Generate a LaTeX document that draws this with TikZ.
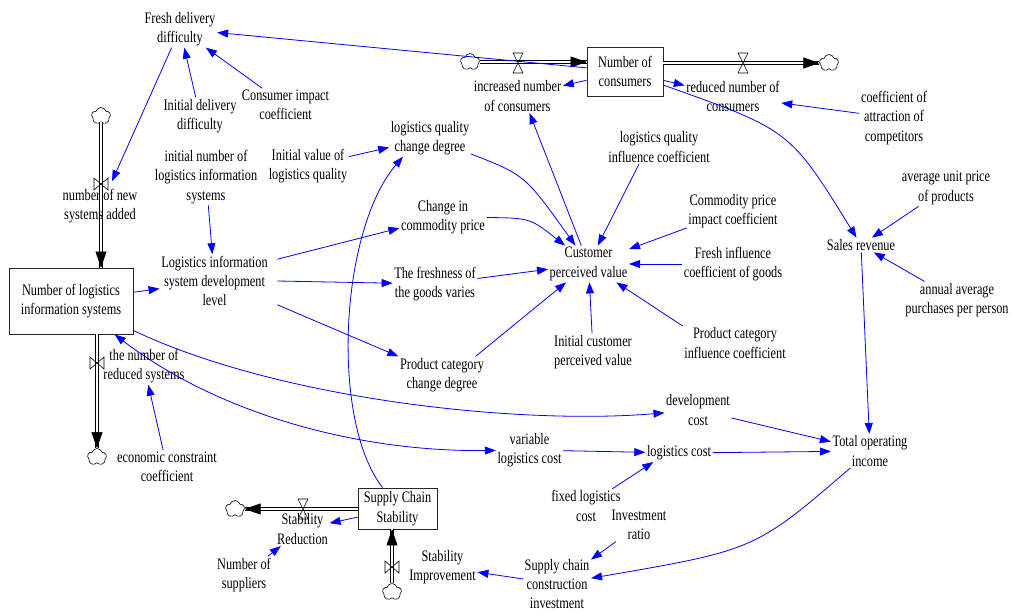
\documentclass[tikz,border=0pt]{standalone}
\usepackage{fontspec}
\setmainfont{Liberation Serif}[FakeStretch=0.77]
\usetikzlibrary{arrows.meta,shapes.symbols,calc}
\begin{document}
\begin{tikzpicture}[x=1pt,y=-1pt,
  lbl/.style={align=center,inner sep=1.5pt,font=\fontsize{16}{19.4}\selectfont},
  stock/.style={lbl,draw=black!85,line width=0.9pt,inner sep=0pt},
  cld/.style={cloud,cloud puffs=5,cloud puff arc=150,draw,line width=0.6pt,minimum width=19pt,minimum height=17pt,inner sep=0pt,aspect=1},
  link/.style={draw=blue,line width=0.8pt,-{Triangle[length=11pt,width=8pt]}},
  pipe/.style={draw=black,double=white,double distance=2.6pt,line width=0.8pt},
  ptip/.style={-{Triangle[length=16pt,width=11pt]},line width=0.5pt,black},
  hvalve/.pic={\draw[line width=0.6pt] (-5,-10)--(5,-10)--(-5,10)--(5,10)--cycle;},
  vvalve/.pic={\draw[line width=0.6pt] (-7,-6)--(-7,6)--(7,-6)--(7,6)--cycle;}
]
\useasboundingbox (0,0) rectangle (1012,614);

% stocks
\node[stock,minimum width=76pt,minimum height=49pt] (cons) at (625,71.5) {Number of\\consumers};
\node[stock,minimum width=124pt,minimum height=66pt] (nlis) at (71,301) {Number of logistics\\information systems};
\node[stock,minimum width=79pt,minimum height=41pt] (scs) at (397.5,508.5) {Supply Chain\\Stability};

% clouds
\node[cld] (cl1) at (101,116) {};
\node[cld] (cl2) at (97,457) {};
\node[cld] (cl3) at (470,62) {};
\node[cld] (cl4) at (829,63) {};
\node[cld] (cl5) at (235,509) {};
\node[cld] (cl6) at (392,592) {};

% pipes
\draw[pipe] (cl1.south) -- (cl1.south |- nlis.north);
\draw[ptip] ($(cl1.south |- nlis.north)+(0,-1)$) -- (cl1.south |- nlis.north);
\draw[pipe] (cl2.north |- nlis.south) -- (cl2.north);
\draw[ptip] ($(cl2.north)+(0,-1)$) -- (cl2.north);
\draw[pipe] (cl3.east) -- (cl3.east -| cons.west);
\draw[ptip] ($(cl3.east -| cons.west)+(-1,0)$) -- (cl3.east -| cons.west);
\draw[pipe] (cl4.west -| cons.east) -- (cl4.west);
\draw[ptip] ($(cl4.west)+(-1,0)$) -- (cl4.west);
\draw[pipe] (cl5.east -| scs.west) -- (cl5.east);
\draw[ptip] ($(cl5.east)+(1,0)$) -- (cl5.east);
\draw[pipe] (cl6.north) -- (cl6.north |- scs.south);
\draw[ptip] ($(cl6.north |- scs.south)+(0,1)$) -- (cl6.north |- scs.south);

% valves
\pic at (101,184) {vvalve};
\pic at (97,363) {vvalve};
\pic at (518,63) {hvalve};
\pic at (743,63) {hvalve};
\pic at (303,509) {hvalve};
\pic at (392,567) {vvalve};

% labels
\node[lbl] (fdd) at (180,29) {Fresh delivery\\difficulty};
\node[lbl] (idd) at (200,116) {Initial delivery\\difficulty};
\node[lbl] (cic) at (285.5,105) {Consumer impact\\coefficient};
\node[lbl] (inlis) at (206,177) {initial number of\\logistics information\\systems};
\node[lbl] (ivlq) at (308,166) {Initial value of\\logistics quality};
\node[lbl] (lqcd) at (430,138) {logistics quality\\change degree};
\node[lbl] (inc) at (517.5,96) {increased number\\of consumers};
\node[lbl] (red) at (733,96.5) {reduced number of\\consumers};
\node[lbl] (coa) at (894,118) {coefficient of\\attraction of\\competitors};
\node[lbl] (lqic) at (659,147) {logistics quality\\influence coefficient};
\node[lbl] (aup) at (946,188) {average unit price\\of products};
\node[lbl] (cpic) at (733,211) {Commodity price\\impact coefficient};
\node[lbl] (sr) at (861,245) {Sales revenue};
\node[lbl] (fic) at (733,264) {Fresh influence\\coefficient of goods};
\node[lbl] (aap) at (957,300) {annual average\\purchases per person};
\node[lbl] (cpv) at (588.5,264) {Customer\\perceived value};
\node[lbl] (cicp) at (443,217) {Change in\\commodity price};
\node[lbl] (fgv) at (435,284) {The freshness of\\the goods varies};
\node[lbl] (pccd) at (442,375) {Product category\\change degree};
\node[lbl] (icpv) at (593,352) {Initial customer\\perceived value};
\node[lbl] (pcic) at (735,343) {Product category\\influence coefficient};
\node[lbl] (lisdl) at (214.5,281) {Logistics information\\system development\\level};
\node[lbl] (nnsa) at (100,206) {number of new\\systems added};
\node[lbl] (nrs) at (144,366) {the number of\\reduced systems};
\node[lbl] (ecc) at (167,467) {economic constraint\\coefficient};
\node[lbl] (dc) at (698,410) {development\\cost};
\node[lbl] (toi) at (870,451) {Total operating\\income};
\node[lbl] (vlc) at (529.5,450) {variable\\logistics cost};
\node[lbl] (lc) at (679,453) {logistics cost};
\node[lbl] (flc) at (586,506) {fixed logistics\\cost};
\node[lbl] (ir) at (639,525) {Investment\\ratio};
\node[lbl] (sred) at (302.5,529) {Stability\\Reduction};
\node[lbl] (nos) at (244,575) {Number of\\suppliers};
\node[lbl] (simp) at (442.5,567) {Stability\\Improvement};
\node[lbl] (scci) at (557,584) {Supply chain\\construction\\investment};

% links
\draw[link] (cons) -- (fdd);
\draw[link] (fdd) -- ($(nnsa.north)+(12,-6)$);
\draw[link] (idd) -- (fdd);
\draw[link] (cic) -- (fdd);
\draw[link] (inlis) -- (lisdl);
\draw[link] (nlis) -- (lisdl);
\draw[link] (ivlq) -- (lqcd);
\draw[link] ([xshift=-15pt]scs.north) .. controls (330,420) and (340,230) .. ([xshift=-27pt]lqcd.south);
\draw[link] (lqcd) .. controls (525,175) .. (cpv);
\draw[link] (cpv) -- ([xshift=12pt]inc.south);
\draw[link] ([xshift=-20pt]lqic.south) -- (cpv);
\draw[link] (cpic) -- (cpv);
\draw[link] (fic) -- (cpv);
\draw[link] (pcic.north west) -- (cpv);
\draw[link] (icpv) -- (cpv);
\draw[link] ([xshift=-10pt]pccd.north east) -- (cpv);
\draw[link] (fgv) -- (cpv);
\draw[link] (cicp) .. controls (530,218) .. (cpv);
\draw[link] ($(lisdl.north east)+(8,5)$) -- (cicp);
\draw[link] ($(lisdl.east)+(8,0)$) -- (fgv);
\draw[link] ($(lisdl.south east)+(8,-3)$) -- (pccd);
\draw[link] (cons) -- (inc);
\draw[link] (cons) -- (red);
\draw[link] (coa) -- (red);
\draw[link] (cons) .. controls (790,130) .. (sr);
\draw[link] (aup) -- (sr);
\draw[link] (aap) -- (sr);
\draw[link] (sr) -- (toi);
\draw[link] (dc) -- (toi);
\draw[link] (lc) -- (toi);
\draw[link] (nlis) .. controls (280,400) and (520,425) .. (dc);
\draw[link,{Triangle[length=11pt,width=8pt]}-{Triangle[length=11pt,width=8pt]}] (nlis) .. controls (220,415) and (360,452) .. (vlc);
\draw[link] (ecc) -- (nrs);
\draw[link] (vlc) -- (lc);
\draw[link] (flc) -- ([xshift=8pt]lc.south west);
\draw[link] (toi) .. controls (755,550) .. (scci);
\draw[link] (ir) -- (scci);
\draw[link] (scci) -- (simp);
\draw[link] (scs) -- (sred);
\draw[link] (nos) -- (sred);
\end{tikzpicture}
\end{document}
